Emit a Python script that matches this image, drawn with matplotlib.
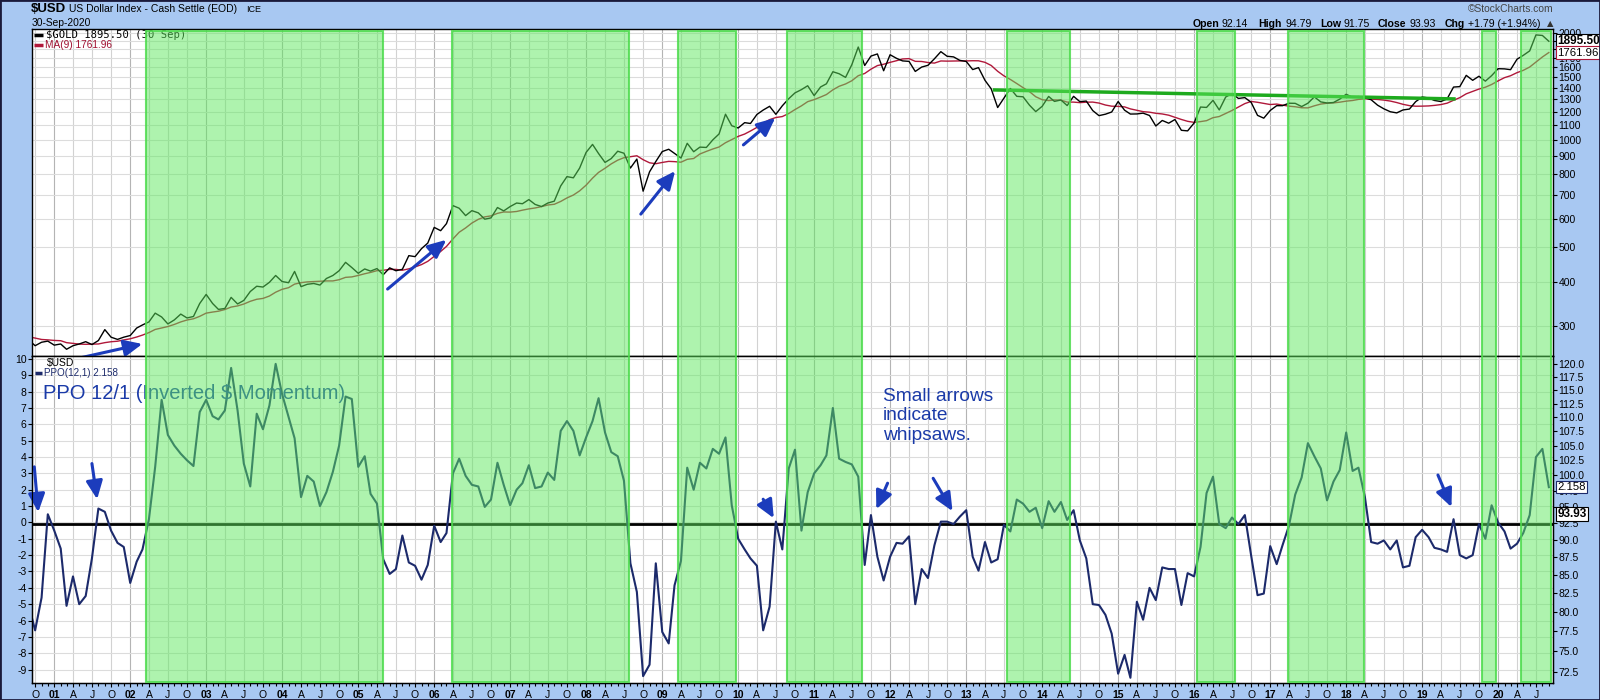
import matplotlib
matplotlib.use('Agg')
import matplotlib.pyplot as plt
import matplotlib.dates as mdates
import matplotlib.transforms as mtransforms
from matplotlib.patches import Rectangle
from matplotlib.ticker import FixedLocator, NullLocator, FuncFormatter
import pandas as pd

plt.rcParams['font.family'] = ['Liberation Sans', 'DejaVu Sans']

# monthly points, Sep 2000 .. Sep 2020
dates = pd.date_range('2000-09-01', '2020-09-01', freq='MS')

# $GOLD monthly close
gold = [
    274, 264, 270, 272,
    265, 267, 258, 264, 267, 271, 266, 273, 293, 279, 275, 279,
    282, 296, 302, 308, 326, 318, 304, 312, 324, 316, 319, 347,
    368, 347, 334, 336, 361, 346, 354, 375, 388, 386, 398, 416,
    400, 397, 427, 387, 393, 395, 391, 408, 416, 429, 453, 438,
    422, 434, 428, 435, 418, 437, 429, 433, 473, 470, 495, 513,
    568, 556, 582, 654, 643, 613, 633, 624, 599, 604, 646, 632,
    650, 665, 662, 680, 659, 650, 665, 673, 743, 789, 783, 834,
    923, 972, 916, 865, 887, 930, 918, 834, 884, 718, 814, 870,
    928, 942, 917, 890, 979, 927, 955, 953, 1001, 1040, 1182, 1097,
    1081, 1119, 1113, 1180, 1214, 1244, 1181, 1248, 1307, 1357, 1386, 1421,
    1333, 1410, 1439, 1556, 1536, 1500, 1628, 1826, 1620, 1722, 1746, 1566,
    1737, 1697, 1669, 1664, 1559, 1604, 1622, 1692, 1772, 1720, 1713, 1675,
    1663, 1578, 1598, 1472, 1393, 1234, 1312, 1396, 1327, 1323, 1253, 1202,
    1244, 1326, 1284, 1296, 1250, 1327, 1282, 1287, 1210, 1171, 1182, 1199,
    1283, 1213, 1183, 1184, 1190, 1172, 1095, 1135, 1115, 1142, 1065, 1061,
    1116, 1238, 1235, 1293, 1215, 1321, 1351, 1309, 1316, 1277, 1173, 1152,
    1211, 1249, 1249, 1269, 1268, 1242, 1269, 1322, 1280, 1271, 1275, 1303,
    1345, 1318, 1325, 1315, 1298, 1253, 1224, 1201, 1192, 1215, 1222, 1282,
    1321, 1313, 1292, 1283, 1305, 1409, 1413, 1520, 1472, 1511, 1464, 1517,
    1587, 1585, 1577, 1687, 1730, 1781, 1975, 1968, 1895.50,
]

# MA(9) of gold
ma9 = [
    279.6, 277.4, 274.9, 274.2,
    273.2, 272.7, 269.3, 268.0, 266.8, 266.4, 266.7, 267.0, 269.3, 270.9, 271.8, 274.1,
    276.1, 279.3, 282.8, 287.4, 293.3, 296.1, 298.9, 303.0, 308.0, 311.8, 314.3, 319.3,
    326.0, 328.3, 330.1, 333.7, 339.1, 341.6, 345.8, 352.0, 356.6, 358.6, 364.2, 373.3,
    380.4, 384.4, 393.4, 397.1, 399.1, 399.9, 400.4, 401.6, 401.6, 404.8, 411.0, 412.2,
    416.1, 420.7, 424.3, 429.2, 430.3, 432.7, 432.7, 430.4, 434.3, 439.7, 446.4, 455.9,
    470.7, 486.0, 502.1, 527.1, 550.4, 566.0, 584.1, 598.4, 608.0, 612.0, 622.0, 627.6,
    627.1, 629.6, 635.0, 640.2, 644.1, 649.8, 656.6, 659.6, 671.9, 687.3, 700.4, 719.6,
    746.6, 781.3, 810.9, 833.1, 856.9, 877.7, 892.0, 897.7, 903.2, 880.4, 862.9, 857.8,
    864.8, 870.9, 869.4, 866.3, 882.4, 887.2, 913.6, 929.0, 943.6, 956.0, 982.7, 1002.7,
    1023.9, 1039.4, 1060.1, 1085.1, 1114.1, 1141.1, 1156.8, 1164.1, 1187.4, 1218.1, 1247.8, 1282.0,
    1299.0, 1320.8, 1342.4, 1384.1, 1416.1, 1437.6, 1467.7, 1516.6, 1538.7, 1581.9, 1619.2, 1633.3,
    1653.4, 1671.3, 1690.1, 1694.1, 1664.4, 1662.7, 1651.6, 1645.6, 1668.4, 1666.6, 1668.3, 1669.0,
    1668.9, 1671.0, 1670.3, 1653.7, 1620.4, 1560.7, 1515.3, 1480.1, 1441.4, 1403.7, 1367.6, 1323.6,
    1298.2, 1290.8, 1296.3, 1294.6, 1278.3, 1278.3, 1273.8, 1277.6, 1278.4, 1270.3, 1254.3, 1244.9,
    1243.4, 1239.3, 1223.3, 1212.4, 1201.7, 1197.4, 1189.0, 1183.8, 1174.4, 1158.8, 1142.3, 1128.8,
    1121.2, 1126.6, 1133.6, 1155.6, 1164.4, 1187.3, 1210.6, 1237.7, 1266.0, 1283.9, 1276.7, 1267.4,
    1258.3, 1262.1, 1254.1, 1245.0, 1240.4, 1232.2, 1231.3, 1247.9, 1262.1, 1268.8, 1271.7, 1277.7,
    1286.1, 1291.7, 1300.9, 1306.0, 1303.3, 1300.3, 1295.1, 1286.9, 1274.6, 1260.1, 1249.4, 1244.7,
    1245.3, 1247.0, 1251.3, 1257.9, 1269.4, 1293.6, 1315.6, 1348.7, 1369.8, 1390.9, 1407.7, 1432.7,
    1466.4, 1497.6, 1516.2, 1546.7, 1570.0, 1604.3, 1655.9, 1711.9, 1761.96,
]

# $USD PPO(12,1)
ppo = [
    -5.1, -6.6, -4.6, 0.5,
    -0.5, -1.6, -5.1, -3.3, -5.0, -4.5, -2.2, 0.85, 0.65, -0.5, -1.25, -1.5,
    -3.7, -2.4, -1.65, 0.2, 3.4, 7.5, 5.35, 4.7, 4.2, 3.8, 3.45, 6.75,
    7.5, 6.5, 6.3, 6.85, 9.45, 6.85, 3.6, 2.2, 6.65, 5.7, 7.15, 9.7,
    7.85, 6.45, 5.15, 1.55, 2.85, 2.5, 1.0, 1.85, 3.1, 4.7, 7.7, 7.55,
    3.4, 4.05, 1.75, 1.15, -2.25, -3.15, -2.85, -0.8, -2.45, -2.65, -3.5, -2.6,
    -0.2, -1.2, -0.65, 3.0, 3.9, 2.85, 2.3, 2.2, 0.95, 1.4, 3.65, 2.3,
    1.05, 2.0, 2.4, 3.5, 2.1, 2.2, 3.05, 2.6, 5.6, 6.2, 5.6, 4.1,
    5.2, 6.2, 7.6, 5.5, 4.3, 4.05, 2.55, -2.5, -4.25, -9.4, -8.7, -2.5,
    -6.7, -7.4, -3.85, -2.35, 3.35, 2.0, 3.65, 3.3, 4.5, 4.2, 5.2, 1.05,
    -1.0, -1.65, -2.2, -2.65, -6.6, -5.15, 0.05, -1.65, 3.3, 4.45, -0.5, 1.85,
    3.0, 3.5, 4.1, 7.0, 3.9, 3.7, 3.55, 2.8, -2.6, 0.45, -2.1, -3.55,
    -2.1, -1.25, -1.3, -0.85, -5.0, -2.85, -3.4, -1.4, 0.05, 0.05, -0.1, 0.35,
    0.75, -2.1, -2.95, -1.2, -2.45, -2.25, -0.15, -0.55, 1.4, 1.15, 0.65, 0.9,
    -0.35, 1.3, 0.65, 1.25, 0.15, 0.75, -1.1, -2.2, -5.0, -5.05, -5.65, -6.8,
    -9.25, -8.1, -9.5, -4.85, -5.95, -4.0, -4.75, -2.75, -2.85, -2.85, -5.05, -3.1,
    -3.3, -1.5, 1.8, 2.8, -0.1, -0.35, 0.3, -0.1, 0.45, -2.0, -4.45, -4.35,
    -1.45, -2.55, -1.4, -0.2, 1.7, 2.75, 4.85, 4.05, 3.3, 1.35, 2.5, 3.2,
    5.5, 3.15, 3.35, 1.55, -1.2, -1.3, -1.1, -1.65, -1.1, -2.75, -2.65, -0.9,
    -0.45, -0.9, -1.55, -1.65, -1.8, 0.2, -2.0, -2.2, -2.0, -0.1, -1.0, 1.05,
    0.0, -0.55, -1.6, -1.3, -0.65, 0.45, 4.0, 4.5, 2.158,
]
usd_close = 93.93

# shaded periods
zone_start = ['2002-03-20', '2006-03-28', '2009-03-20', '2010-08-22', '2013-07-18',
              '2016-01-15', '2017-03-28', '2019-10-18', '2020-04-20']
zone_end = ['2005-05-01', '2008-07-26', '2009-12-20', '2011-08-18', '2014-05-15',
            '2016-07-18', '2018-03-28', '2019-12-20', '2020-09-12']

# hand drawn arrows: (tail date, tail value, head date, head value)
gold_arrows = [
    ('2000-11-05', 231, '2002-02-28', 267),
    ('2005-05-22', 381, '2006-02-28', 524),
    ('2008-09-20', 619, '2009-03-04', 818),
    ('2010-01-26', 969, '2010-06-28', 1154),
]
ppo_arrows = [
    ('2000-09-27', 3.4, '2000-10-16', 0.63),
    ('2001-07-01', 3.6, '2001-07-26', 1.42),
    ('2010-05-01', 1.42, '2010-06-21', 0.26),
    ('2011-12-20', 2.4, '2011-10-27', 0.81),
    ('2012-07-26', 2.7, '2012-10-27', 0.69),
    ('2019-03-18', 2.9, '2019-05-22', 0.94),
]
trend_dates = ['2013-05-17', '2019-06-03']
trend_values = [1383, 1305]

BG = '#a8c8f2'
BLUE = '#1c3cbc'

fig = plt.figure(figsize=(16, 7), dpi=100, facecolor=BG)
L, R = 32 / 1600, 1553 / 1600
ax_top = fig.add_axes([L, 1 - 356 / 700, R - L, 327 / 700])
ax_bot = fig.add_axes([L, 1 - 683 / 700, R - L, 327 / 700], sharex=ax_top)

qticks = pd.date_range('2000-10-01', '2020-07-01', freq='QS-JAN')
qlabels = [('%02d' % (d.year % 100)) if d.month == 1 else {4: 'A', 7: 'J', 10: 'O'}[d.month]
           for d in qticks]

for ax in (ax_top, ax_bot):
    for d in qticks:
        ax.axvline(d, color='#b4b4b4' if d.month == 1 else '#d2d2d2', lw=0.8, zorder=0.5)
    for s in ax.spines.values():
        s.set_color('black')
        s.set_linewidth(1)

# ---- top panel: gold
ax_top.plot(dates, ma9, color='#b0183a', lw=1, zorder=2)
ax_top.plot(dates, gold, color='black', lw=1, zorder=3)
ax_top.plot(pd.to_datetime(trend_dates), trend_values, color='#1eaa1e', lw=2.5, zorder=4)
ax_top.set_yscale('log')
ax_top.set_ylim(247, 2052)
ax_top.yaxis.set_major_locator(FixedLocator(list(range(300, 2001, 100))))
ax_top.yaxis.set_minor_locator(NullLocator())
# 1800 / 1900 sit under the value tags
ax_top.yaxis.set_major_formatter(FuncFormatter(lambda v, p: '' if v in (1800, 1900) else '%d' % v))
ax_top.tick_params(axis='y', left=False, labelleft=False, right=True, labelright=True,
                   labelsize=7.5, pad=1, length=3, width=0.8)
ax_top.tick_params(axis='x', which='both', bottom=False, labelbottom=False)
ax_top.grid(axis='y', color='#dcdcdc', lw=0.8, zorder=0.4)

# ---- bottom panel: PPO
ax_bot.plot(dates, ppo, color='#1c2a6b', lw=1.5, zorder=3)
ax_bot.axhline(-0.1, color='black', lw=2, zorder=2)
ax_bot.set_ylim(-9.82, 10.18)
ax_bot.set_yticks(list(range(-9, 11)))
ax_bot.set_yticklabels([str(v) for v in range(-9, 11)])
ax_bot.tick_params(axis='y', labelsize=7.5, pad=1, length=3, width=0.8)
ax_bot.grid(axis='y', color='#dcdcdc', lw=0.8, zorder=0.4)

ax_bot.set_xticks(qticks)
ax_bot.set_xticklabels(qlabels)
ax_bot.xaxis.set_minor_locator(mdates.MonthLocator())
ax_bot.tick_params(axis='x', which='major', labelsize=7.5, pad=2, length=3, width=0.8)
ax_bot.tick_params(axis='x', which='minor', length=2, width=0.8)
for lab in ax_bot.get_xticklabels():
    if lab.get_text().isdigit():
        lab.set_fontweight('bold')
ax_bot.set_xlim(pd.Timestamp('2000-09-16'), pd.Timestamp('2020-09-21'))

ax_r = ax_bot.twinx()
ax_r.set_yscale('log')
ax_r.set_ylim(71.2, 121.6)
rticks = [72.5 + 2.5 * i for i in range(20)]
ax_r.yaxis.set_major_locator(FixedLocator(rticks))
ax_r.yaxis.set_minor_locator(NullLocator())
ax_r.yaxis.set_major_formatter(FuncFormatter(lambda v, p: '%.1f' % v))
ax_r.tick_params(axis='y', labelsize=7.5, pad=1, length=3, width=0.8)

# ---- arrows
for t_d, t_v, h_d, h_v in gold_arrows:
    ax_top.annotate('', xy=(pd.Timestamp(h_d), h_v), xytext=(pd.Timestamp(t_d), t_v),
                    arrowprops=dict(arrowstyle='-|>,head_length=0.55,head_width=0.25',
                                    color=BLUE, lw=2.2, shrinkA=0, shrinkB=0,
                                    mutation_scale=20),
                    annotation_clip=False, zorder=6)
for t_d, t_v, h_d, h_v in ppo_arrows:
    ax_bot.annotate('', xy=(pd.Timestamp(h_d), h_v), xytext=(pd.Timestamp(t_d), t_v),
                    arrowprops=dict(arrowstyle='-|>,head_length=0.55,head_width=0.25',
                                    color=BLUE, lw=2.2, shrinkA=0, shrinkB=0,
                                    mutation_scale=20),
                    annotation_clip=False, zorder=6)

ax_bot.text(pd.Timestamp('2000-11-08'), 7.9, 'PPO 12/1 (Inverted $ Momentum)',
            fontsize=14.5, color='#1a3aa8', va='center', ha='left', zorder=6)
ax_bot.text(pd.Timestamp('2011-11-28'), 8.25, 'Small arrows\nindicate\nwhipsaws.',
            fontsize=13.8, color='#1a3aa8', va='top', ha='left', linespacing=1.2, zorder=6)

# ---- legends inside panels
ax_top.plot([0.001, 0.007], [0.982, 0.982], transform=ax_top.transAxes, color='black', lw=2.5,
            clip_on=False, solid_capstyle='butt')
ax_top.text(0.0092, 0.982, '$GOLD %.2f (30 Sep)' % gold[-1], transform=ax_top.transAxes,
            family='DejaVu Sans Mono', fontsize=7.6, va='center', ha='left')
ax_top.plot([0.001, 0.007], [0.951, 0.951], transform=ax_top.transAxes, color='#b0183a', lw=2.5,
            clip_on=False, solid_capstyle='butt')
ax_top.text(0.0085, 0.951, 'MA(9) %.2f' % ma9[-1], transform=ax_top.transAxes,
            fontsize=7.3, color='#a01030', va='center', ha='left')
ax_bot.text(0.0098, 0.978, '$USD', transform=ax_bot.transAxes, fontsize=7.5, va='center', ha='left')
ax_bot.plot([0.002, 0.0065], [0.948, 0.948], transform=ax_bot.transAxes, color='#1c2a6b', lw=2.5,
            clip_on=False, solid_capstyle='butt')
ax_bot.text(0.0078, 0.948, 'PPO(12,1) %.3f' % ppo[-1], transform=ax_bot.transAxes,
            fontsize=7.1, color='#1c2a6b', va='center', ha='left')

# ---- value tags on the right
bt = mtransforms.blended_transform_factory(ax_top.transAxes, ax_top.transData)
ax_top.text(1.003, gold[-1], '%.2f' % gold[-1], transform=bt, fontsize=8.5, weight='bold',
            va='center', ha='left', clip_on=False, zorder=7,
            bbox=dict(boxstyle='square,pad=0.1', fc='white', ec='black', lw=0.8))
ax_top.text(1.003, ma9[-1], '%.2f' % ma9[-1], transform=bt, fontsize=8.2,
            va='center', ha='left', clip_on=False, zorder=7,
            bbox=dict(boxstyle='square,pad=0.1', fc='white', ec='#b0183a', lw=0.8))
br_ppo = mtransforms.blended_transform_factory(ax_r.transAxes, ax_bot.transData)
ax_r.text(1.003, ppo[-1], '%.3f' % ppo[-1], transform=br_ppo, fontsize=8.2,
          va='center', ha='left', clip_on=False, zorder=7,
          bbox=dict(boxstyle='square,pad=0.1', fc='white', ec='#1c2a6b', lw=0.8))
br_usd = mtransforms.blended_transform_factory(ax_r.transAxes, ax_r.transData)
ax_r.text(1.003, usd_close, '%.2f' % usd_close, transform=br_usd, fontsize=8.5, weight='bold',
          va='center', ha='left', clip_on=False, zorder=7,
          bbox=dict(boxstyle='square,pad=0.1', fc='white', ec='black', lw=0.8))

# ---- green zones over both panels
zt = mtransforms.blended_transform_factory(ax_bot.transData, fig.transFigure)
for s, e in zip(zone_start, zone_end):
    x0 = mdates.date2num(pd.Timestamp(s))
    x1 = mdates.date2num(pd.Timestamp(e))
    fig.add_artist(Rectangle((x0, 1 - 682 / 700), x1 - x0, (682 - 31) / 700, transform=zt,
                             facecolor=(0.37, 0.91, 0.37, 0.5),
                             edgecolor=(0.30, 0.86, 0.30, 0.85), lw=1.5))

# ---- header
fig.text(31 / 1600, 1 - 9 / 700, '$USD', fontsize=9.5, weight='bold', va='center', ha='left')
fig.text(69 / 1600, 1 - 9 / 700, 'US Dollar Index - Cash Settle (EOD)', fontsize=7.5,
         va='center', ha='left')
fig.text(246 / 1600, 1 - 9 / 700, 'ICE', fontsize=6.5, va='center', ha='left')
fig.text(32 / 1600, 1 - 22.5 / 700, '30-Sep-2020', fontsize=7.4, va='center', ha='left')
fig.text(1553 / 1600, 1 - 9.5 / 700, '\u00a9StockCharts.com', fontsize=7.4, color='#444444',
         va='center', ha='right')

hdr = [('Open', True, 1193), ('92.14', False, 1222), ('High', True, 1258), ('94.79', False, 1285),
       ('Low', True, 1320), ('91.75', False, 1343), ('Close', True, 1378), ('93.93', False, 1409),
       ('Chg', True, 1445), ('+1.79 (+1.94%)', False, 1468)]
for txt, bold, x in hdr:
    fig.text(x / 1600, 1 - 24 / 700, txt, fontsize=7.6, weight='bold' if bold else 'normal',
             va='center', ha='left')
fig.text(1547 / 1600, 1 - 24 / 700, '\u25b2', fontsize=6, color='#333333', va='center',
         ha='left', family='DejaVu Sans')

fig.add_artist(Rectangle((0, 0), 1, 1, transform=fig.transFigure, fill=False,
                         edgecolor='#1a1a3a', lw=2))

fig.savefig('out.png', dpi=100, facecolor=BG)
